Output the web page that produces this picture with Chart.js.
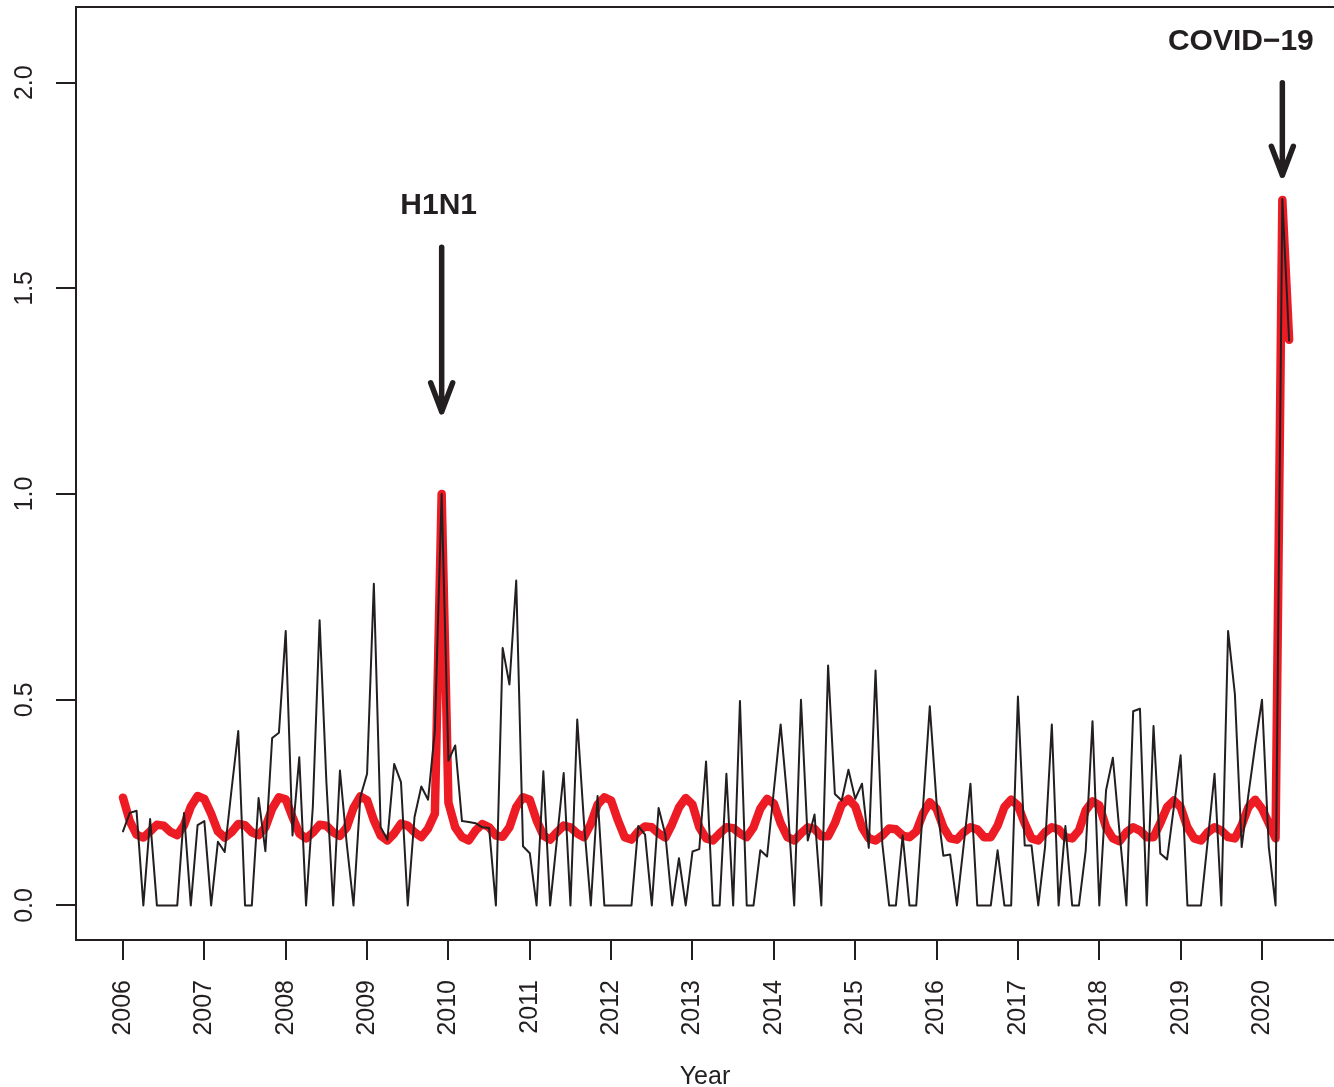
<!DOCTYPE html>
<html>
<head>
<meta charset="utf-8">
<title>Monthly series with fitted seasonal curve</title>
<script src="https://cdn.jsdelivr.net/npm/chart.js@4.4.1/dist/chart.umd.min.js"></script>
<style>
  html, body { margin: 0; padding: 0; background: #ffffff; }
  #wrap { width: 1334px; height: 1087px; position: relative; }
</style>
</head>
<body>
<div id="wrap"><canvas id="chart"></canvas></div>
<script>
// ---- data (monthly, Jan 2006 .. May 2020) ----
const startYear = 2006;

const observed = [
  // 2006
  0.180, 0.225, 0.230, 0, 0.210, 0, 0, 0, 0, 0.225, 0, 0.195,
  // 2007
  0.205, 0, 0.155, 0.130, 0.280, 0.424, 0, 0, 0.261, 0.132, 0.407, 0.420,
  // 2008
  0.667, 0.170, 0.360, 0, 0.240, 0.693, 0.300, 0, 0.328, 0.150, 0, 0.263,
  // 2009
  0.320, 0.782, 0.190, 0.160, 0.344, 0.300, 0, 0.215, 0.289, 0.257, 0.425, 1.000,
  // 2010
  0.352, 0.389, 0.205, 0.203, 0.200, 0.190, 0.188, 0, 0.626, 0.537, 0.790, 0.144,
  // 2011
  0.127, 0, 0.326, 0, 0.160, 0.322, 0, 0.452, 0.200, 0, 0.266, 0,
  // 2012
  0, 0, 0, 0, 0.193, 0.172, 0, 0.237, 0.172, 0, 0.115, 0,
  // 2013
  0.131, 0.137, 0.350, 0, 0, 0.320, 0, 0.497, 0, 0, 0.134, 0.119,
  // 2014
  0.280, 0.440, 0.255, 0, 0.500, 0.158, 0.221, 0, 0.583, 0.271, 0.255, 0.330,
  // 2015
  0.259, 0.296, 0.140, 0.571, 0.150, 0, 0, 0.170, 0, 0, 0.239, 0.484,
  // 2016
  0.250, 0.121, 0.124, 0, 0.147, 0.296, 0, 0, 0, 0.134, 0, 0,
  // 2017
  0.508, 0.146, 0.146, 0, 0.142, 0.440, 0, 0.193, 0, 0, 0.134, 0.448,
  // 2018
  0, 0.280, 0.359, 0.175, 0, 0.472, 0.478, 0, 0.436, 0.126, 0.112, 0.239,
  // 2019
  0.365, 0, 0, 0, 0.158, 0.320, 0, 0.667, 0.514, 0.142, 0.270, 0.390,
  // 2020
  0.500, 0.142, 0, 1.717, 1.373
];

const fitted = [
  // 2006
  0.262, 0.205, 0.172, 0.165, 0.180, 0.196, 0.194, 0.179, 0.171, 0.195, 0.240, 0.266,
  // 2007
  0.259, 0.223, 0.180, 0.165, 0.178, 0.198, 0.195, 0.178, 0.171, 0.190, 0.235, 0.263,
  // 2008
  0.258, 0.215, 0.175, 0.163, 0.177, 0.196, 0.194, 0.178, 0.169, 0.190, 0.237, 0.265,
  // 2009
  0.256, 0.207, 0.170, 0.158, 0.175, 0.199, 0.194, 0.178, 0.166, 0.187, 0.223, 1.000,
  // 2010
  0.250, 0.190, 0.166, 0.158, 0.182, 0.198, 0.190, 0.170, 0.167, 0.190, 0.239, 0.263,
  // 2011
  0.257, 0.207, 0.170, 0.160, 0.178, 0.194, 0.190, 0.175, 0.166, 0.198, 0.245, 0.263,
  // 2012
  0.255, 0.207, 0.166, 0.160, 0.180, 0.192, 0.190, 0.175, 0.165, 0.198, 0.238, 0.261,
  // 2013
  0.245, 0.190, 0.163, 0.158, 0.175, 0.190, 0.188, 0.175, 0.166, 0.190, 0.235, 0.259,
  // 2014
  0.248, 0.200, 0.166, 0.158, 0.175, 0.190, 0.186, 0.168, 0.168, 0.200, 0.245, 0.259,
  // 2015
  0.241, 0.190, 0.163, 0.158, 0.170, 0.187, 0.185, 0.170, 0.166, 0.180, 0.223, 0.251,
  // 2016
  0.235, 0.190, 0.163, 0.160, 0.178, 0.190, 0.185, 0.166, 0.166, 0.194, 0.239, 0.257,
  // 2017
  0.243, 0.200, 0.163, 0.158, 0.178, 0.190, 0.185, 0.166, 0.163, 0.182, 0.231, 0.253,
  // 2018
  0.243, 0.190, 0.163, 0.156, 0.178, 0.190, 0.182, 0.166, 0.166, 0.200, 0.239, 0.255,
  // 2019
  0.239, 0.190, 0.163, 0.158, 0.178, 0.190, 0.182, 0.166, 0.163, 0.195, 0.239, 0.257,
  // 2020
  0.235, 0.200, 0.163, 1.715, 1.375
];

const yearTicks = [2006, 2007, 2008, 2009, 2010, 2011, 2012, 2013, 2014, 2015, 2016, 2017, 2018, 2019, 2020];
const yTicks = [0, 0.5, 1, 1.5, 2];
const yTickLabels = ['0.0', '0.5', '1.0', '1.5', '2.0'];

// event annotations, in data units
const eventLabels = ['H1N1', 'COVID\u221219'];
const eventTextX = [2009.88, 2019.74];
const eventTextY = [1.7, 2.1];
const eventArrowX = [2009.917, 2020.25];
const eventArrowFrom = [1.6, 2.0];
const eventArrowTo = [1.2, 1.775];

// ---- styling ----
const INK = '#231f20';
const RED = '#ed1c24';
const FONT = "'Liberation Sans', Arial, Helvetica, sans-serif";

const toPoints = vals => vals.map((v, i) => ({ x: startYear + i / 12, y: v }));

// draws the frame, rotated y labels and the event arrows
const extras = {
  id: 'extras',
  afterDatasetsDraw(chart) {
    const { ctx, chartArea, scales } = chart;
    const xs = scales.x, ys = scales.y;
    ctx.save();

    // frame
    ctx.strokeStyle = INK;
    ctx.lineWidth = 2;
    ctx.strokeRect(chartArea.left, chartArea.top, chartArea.right - chartArea.left + 3, chartArea.bottom - chartArea.top);

    // y tick labels, parallel to the axis
    ctx.fillStyle = INK;
    ctx.font = '25px ' + FONT;
    ctx.textAlign = 'center';
    ctx.textBaseline = 'alphabetic';
    yTicks.forEach((v, i) => {
      ctx.save();
      ctx.translate(32, ys.getPixelForValue(v));
      ctx.rotate(-Math.PI / 2);
      ctx.fillText(yTickLabels[i], 0, 0);
      ctx.restore();
    });

    // events
    eventLabels.forEach((lab, i) => {
      ctx.font = 'bold 30px ' + FONT;
      ctx.textAlign = 'center';
      ctx.textBaseline = 'middle';
      ctx.fillText(lab, xs.getPixelForValue(eventTextX[i]), ys.getPixelForValue(eventTextY[i]));

      const ax = xs.getPixelForValue(eventArrowX[i]);
      const y0 = ys.getPixelForValue(eventArrowFrom[i]);
      const y1 = ys.getPixelForValue(eventArrowTo[i]);
      ctx.lineWidth = 5.5;
      ctx.lineCap = 'round';
      ctx.lineJoin = 'round';
      ctx.beginPath();
      ctx.moveTo(ax, y0);
      ctx.lineTo(ax, y1);
      ctx.moveTo(ax - 11, y1 - 29);
      ctx.lineTo(ax, y1);
      ctx.lineTo(ax + 11, y1 - 29);
      ctx.stroke();
    });

    ctx.restore();
  }
};

new Chart(document.getElementById('chart'), {
  type: 'line',
  data: {
    datasets: [
      {
        label: 'Observed',
        data: toPoints(observed),
        borderColor: INK,
        borderWidth: 2,
        borderJoinStyle: 'round',
        borderCapStyle: 'round',
        pointRadius: 0,
        tension: 0,
        order: 0
      },
      {
        label: 'Fitted',
        data: toPoints(fitted),
        borderColor: RED,
        borderWidth: 8.5,
        borderJoinStyle: 'round',
        borderCapStyle: 'round',
        pointRadius: 0,
        tension: 0,
        order: 1
      }
    ]
  },
  options: {
    responsive: true,
    maintainAspectRatio: false,
    animation: false,
    layout: { padding: { top: 7, right: 0, left: 0, bottom: 0 } },
    plugins: {
      legend: { display: false },
      tooltip: { enabled: false }
    },
    scales: {
      x: {
        type: 'linear',
        min: 2005.4223,
        max: 2020.885,
        afterBuildTicks: s => { s.ticks = yearTicks.map(v => ({ value: v })); },
        afterFit: s => { s.height = 147; },
        border: { display: false },
        grid: { display: true, drawOnChartArea: false, drawTicks: true, tickLength: 20, color: INK, lineWidth: 2 },
        ticks: {
          autoSkip: false,
          minRotation: 90,
          maxRotation: 90,
          padding: 20,
          color: INK,
          font: { family: FONT, size: 25 },
          callback: v => String(v)
        },
        title: {
          display: true,
          text: 'Year',
          color: INK,
          font: { family: FONT, size: 25 },
          padding: { top: 0, bottom: -5 }
        }
      },
      y: {
        type: 'linear',
        min: -0.084,
        max: 2.184,
        afterBuildTicks: s => { s.ticks = yTicks.map(v => ({ value: v })); },
        afterFit: s => { s.width = 76; },
        border: { display: false },
        grid: { display: true, drawOnChartArea: false, drawTicks: true, tickLength: 20, color: INK, lineWidth: 2 },
        ticks: { display: false }
      }
    }
  },
  plugins: [extras]
});
</script>
</body>
</html>
